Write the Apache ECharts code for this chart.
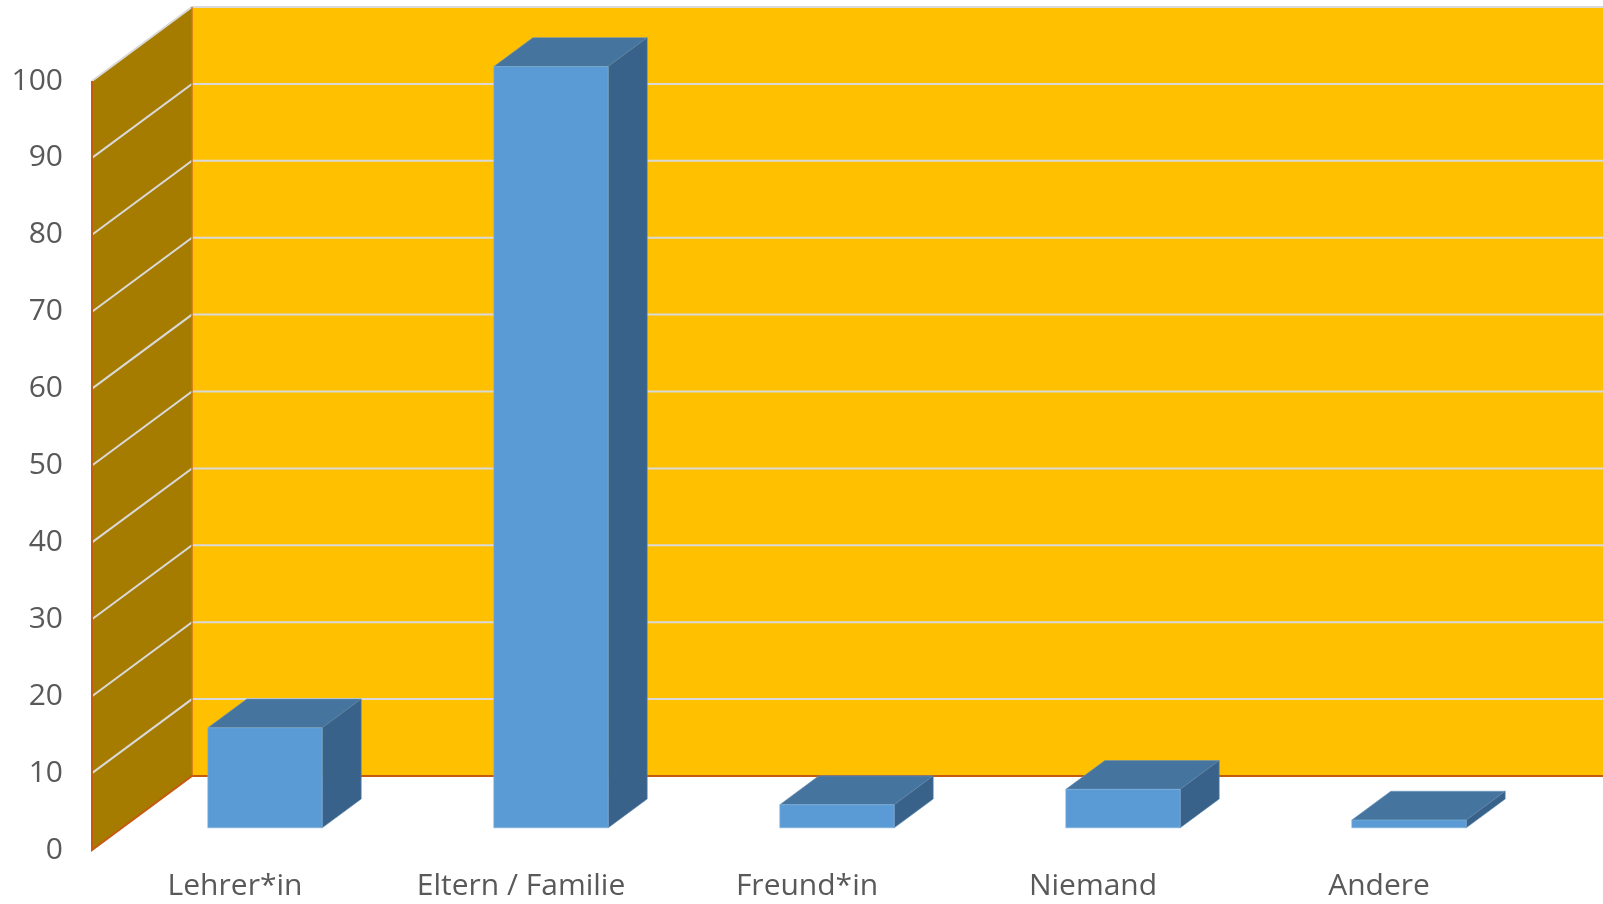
<!DOCTYPE html>
<html>
<head>
<meta charset="utf-8">
<script src="https://cdn.jsdelivr.net/npm/echarts@6/dist/echarts.min.js"></script>
<style>
html,body{margin:0;padding:0;background:#fff;}
#chart{width:1603px;height:904px;}
</style>
</head>
<body>
<div id="chart"></div>
<script>
// ---- data ----
const categories = ['Lehrer*in', 'Eltern / Familie', 'Freund*in', 'Niemand', 'Andere'];
const values = [13, 99, 3, 5, 1];
const yTicks = [0, 10, 20, 30, 40, 50, 60, 70, 80, 90, 100];

// ---- projection / style constants ----
const DX = 100, DY = -74;          // full depth offset of the 3D box
const F1 = 0.30, F2 = 0.69;        // bar front / back depth fractions
const BAR_W = 0.40;                // bar width as fraction of band
const FONT = '"Open Sans", "DejaVu Sans", sans-serif';

const chart = echarts.init(document.getElementById('chart'), null, {renderer: 'canvas'});

function wallsRender(params, api) {
  const cs = params.coordSys;
  const x0 = cs.x;
  const farRight = cs.x + cs.width + DX + 200;
  const y0 = api.coord([0, yTicks[0]])[1];
  const yMax = api.coord([0, yTicks[yTicks.length - 1]])[1];
  const children = [];
  children.push({type: 'polygon', shape: {points: [
    [x0 + DX, yMax + DY], [farRight, yMax + DY], [farRight, y0 + DY], [x0 + DX, y0 + DY]]},
    style: {fill: '#FFC000'}});
  children.push({type: 'polygon', shape: {points: [
    [x0, yMax], [x0 + DX, yMax + DY], [x0 + DX, y0 + DY], [x0, y0]]},
    style: {fill: '#A57C00'}});
  yTicks.forEach(function (v) {
    if (v === 0) return;
    const y = api.coord([0, v])[1];
    children.push({type: 'polyline', shape: {points: [[x0, y], [x0 + DX, y + DY], [farRight, y + DY]]},
      style: {stroke: '#D9D9D9', lineWidth: 2, fill: null}});
  });
  children.push({type: 'line', shape: {x1: x0 + DX, y1: y0 + DY, x2: x0 + DX, y2: yMax + DY},
    style: {stroke: '#D0701A', lineWidth: 1.5}});
  children.push({type: 'polyline', shape: {points: [[x0, yMax], [x0, y0], [x0 + DX, y0 + DY], [farRight, y0 + DY]]},
    style: {stroke: '#C55A11', lineWidth: 2, fill: null}});
  return {type: 'group', children: children};
}

function barRender(params, api) {
  const idx = api.value(0);
  const val = api.value(1);
  const base = api.coord([idx, 0]);
  const top = api.coord([idx, val]);
  const band = api.size([1, 0])[0];
  const w = band * BAR_W;
  const xl = base[0] - w / 2 + F1 * DX;
  const xr = xl + w;
  const yb = base[1] + F1 * DY;
  const yt = top[1] + F1 * DY;
  const ddx = (F2 - F1) * DX, ddy = (F2 - F1) * DY;
  return {type: 'group', children: [
    {type: 'polygon', shape: {points: [[xl, yt], [xr, yt], [xr + ddx, yt + ddy], [xl + ddx, yt + ddy]]},
      style: {fill: '#45759F', stroke: '#6E95BB', lineWidth: 0.6}},
    {type: 'polygon', shape: {points: [[xr, yt], [xr + ddx, yt + ddy], [xr + ddx, yb + ddy], [xr, yb]]},
      style: {fill: '#38628A', stroke: '#5C83A8', lineWidth: 0.6}},
    {type: 'rect', shape: {x: xl, y: yt, width: w, height: yb - yt},
      style: {fill: '#5B9BD5', stroke: '#7FB0DD', lineWidth: 0.6}}
  ]};
}

chart.setOption({
  animation: false,
  backgroundColor: '#ffffff',
  grid: {left: 92, right: 81, top: 81, bottom: 54, containLabel: false},
  xAxis: {
    type: 'category',
    data: categories,
    axisLine: {show: false},
    axisTick: {show: false},
    splitLine: {show: false},
    axisLabel: {color: '#595959', fontSize: 30, fontFamily: FONT, margin: 21, interval: 0}
  },
  yAxis: {
    type: 'value',
    min: 0, max: 100, interval: 10,
    axisLine: {show: false},
    axisTick: {show: false},
    splitLine: {show: false},
    axisLabel: {color: '#595959', fontSize: 30, fontFamily: FONT, margin: 29}
  },
  series: [
    {
      type: 'custom',
      name: 'walls',
      renderItem: wallsRender,
      data: [[0, 0]],
      silent: true,
      z: 1,
      clip: false
    },
    {
      type: 'custom',
      name: 'bars',
      renderItem: barRender,
      data: values.map(function (v, i) { return [i, v]; }),
      z: 5,
      clip: false
    }
  ]
});
</script>
</body>
</html>
